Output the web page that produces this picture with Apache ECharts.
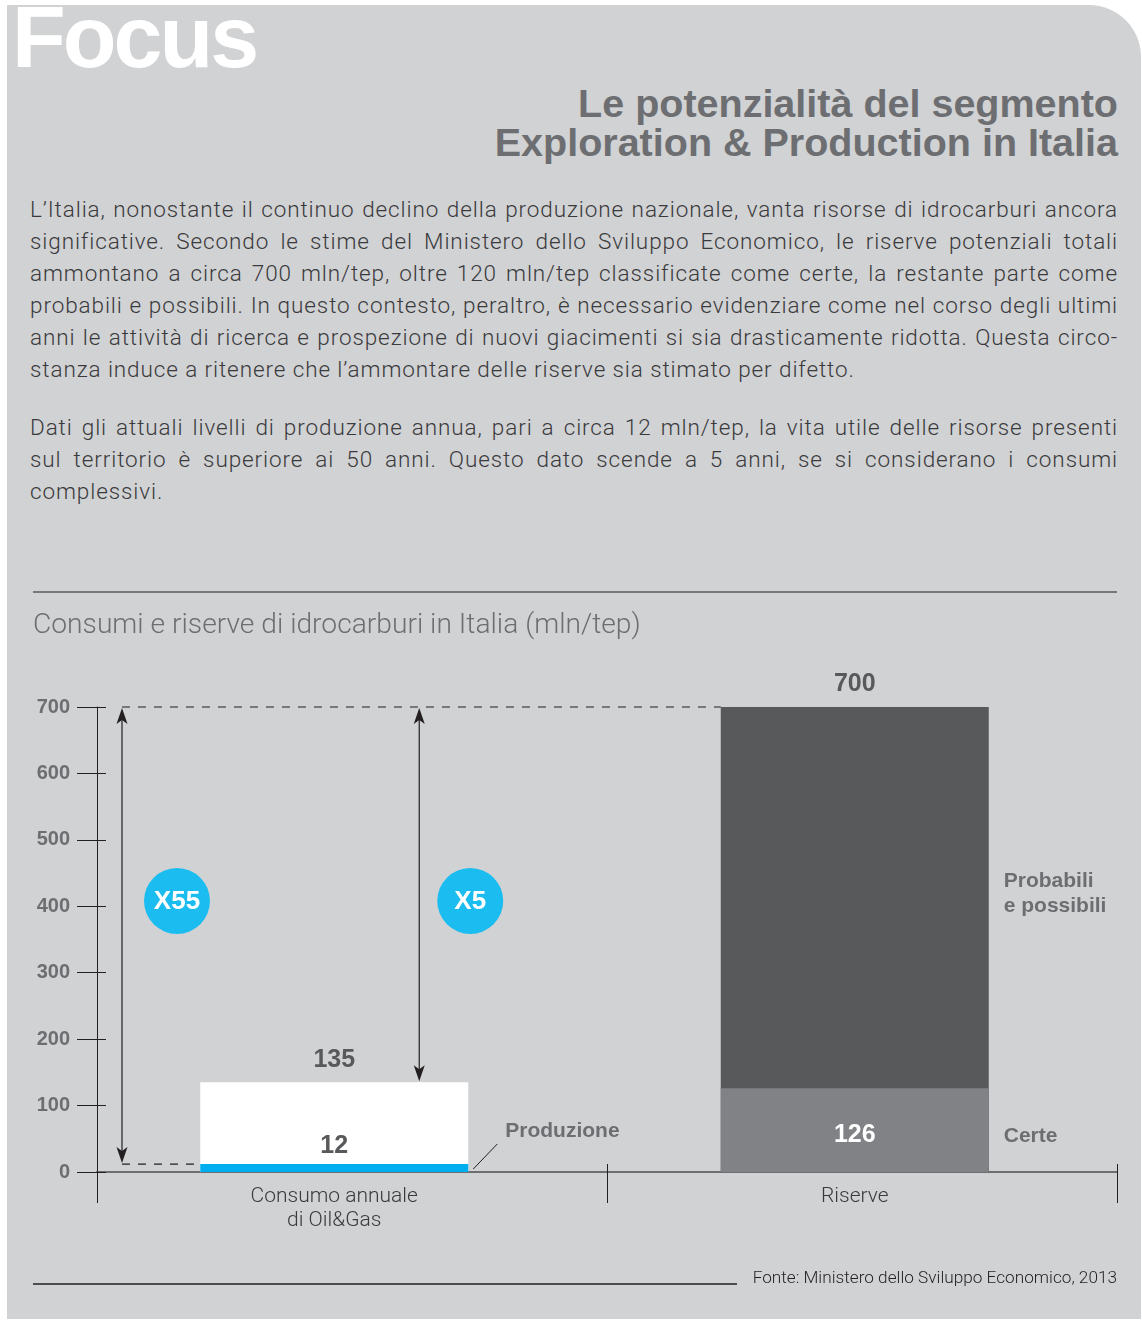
<!DOCTYPE html>
<html>
<head>
<meta charset="utf-8">
<script src="https://cdn.jsdelivr.net/npm/echarts@6/dist/echarts.min.js"></script>
<style>
html,body{margin:0;padding:0;background:#fff;width:1142px;height:1325px;overflow:hidden;}
#panel{position:absolute;left:7px;top:5px;width:1134px;height:1314px;background:#d1d2d4;border-top-right-radius:52px;}
#focus{position:absolute;left:12px;top:-7px;font:bold 88px/88px "Liberation Sans",Arial,sans-serif;letter-spacing:-3px;color:#fff;}
#title{position:absolute;right:24px;top:84px;text-align:right;font:bold 39.5px/39px "Liberation Sans",Arial,sans-serif;color:#6d6e71;white-space:nowrap;}
.para{position:absolute;left:30px;width:1088px;font-family:Roboto,"Liberation Sans",sans-serif;font-weight:300;font-size:22.5px;letter-spacing:0.9px;line-height:32px;color:#3a3a3c;}
.para div{text-align:justify;text-align-last:justify;white-space:nowrap;}
.para div.last{text-align:left;text-align-last:left;}
#chart{position:absolute;left:0;top:0;width:1142px;height:1325px;}
</style>
</head>
<body>
<div id="panel"></div>
<div id="focus">Focus</div>
<div id="title">Le potenzialità del segmento<br>Exploration &amp; Production in Italia</div>
<div class="para" style="top:193px">
<div>L’Italia, nonostante il continuo declino della produzione nazionale, vanta risorse di idrocarburi ancora</div>
<div>significative. Secondo le stime del Ministero dello Sviluppo Economico, le riserve potenziali totali</div>
<div>ammontano a circa 700 mln/tep, oltre 120 mln/tep classificate come certe, la restante parte come</div>
<div>probabili e possibili. In questo contesto, peraltro, è necessario evidenziare come nel corso degli ultimi</div>
<div>anni le attività di ricerca e prospezione di nuovi giacimenti si sia drasticamente ridotta. Questa circo-</div>
<div class="last">stanza induce a ritenere che l’ammontare delle riserve sia stimato per difetto.</div>
</div>
<div class="para" style="top:411px">
<div>Dati gli attuali livelli di produzione annua, pari a circa 12 mln/tep, la vita utile delle risorse presenti</div>
<div>sul territorio è superiore ai 50 anni. Questo dato scende a 5 anni, se si considerano i consumi</div>
<div class="last">complessivi.</div>
</div>
<div id="chart"></div>
<script>
// ---- data ----
const categories = ['Consumo annuale\ndi Oil&Gas', 'Riserve'];
const totalValues = [135, 700];   // consumo annuo totale, riserve totali
const partValues = [12, 126];     // produzione, riserve certe
const totalColors = ['#ffffff', '#58595b'];
const partColors = ['#00aeef', '#808285'];
const yMin = 0, yMax = 700, yStep = 100;
const multipliers = ['X55', 'X5'];
const partNames = ['Produzione', 'Certe'];
const upperName = 'Probabili\ne possibili';
const chartTitle = 'Consumi e riserve di idrocarburi in Italia (mln/tep)';
const sourceText = 'Fonte: Ministero dello Sviluppo Economico, 2013';

const LIGHT = 'Roboto, "Liberation Sans", sans-serif';
const BOLD = '"Liberation Sans", Arial, sans-serif';
const DARK = '#231f20';
const GREY = '#6d6e71';
const LABEL = '#58595b';

const chart = echarts.init(document.getElementById('chart'), null, {renderer: 'canvas'});

const valueAxisBase = {type: 'value', min: yMin, max: yMax, interval: yStep, splitLine: {show: false}, position: 'left'};

chart.setOption({
  animation: false,
  backgroundColor: 'transparent',
  title: {
    text: chartTitle, left: 28, top: 607,
    textStyle: {fontFamily: LIGHT, fontWeight: 300, fontSize: 28.2, color: GREY}
  },
  grid: [
    {left: 97, right: 25, top: 707, bottom: 153},
    {left: 74, right: 27, top: 707, bottom: 153}
  ],
  xAxis: [
    {type: 'category', gridIndex: 0, position: 'bottom', data: categories,
      axisLine: {show: true, lineStyle: {color: GREY, width: 2}},
      axisTick: {show: true, length: 31, interval: 0, lineStyle: {color: DARK, width: 1}},
      axisLabel: {show: false}},
    {type: 'category', gridIndex: 0, position: 'bottom', data: categories,
      axisLine: {show: false},
      axisTick: {show: true, inside: true, length: 8, interval: 0, lineStyle: {color: DARK, width: 1}},
      axisLabel: {show: false}},
    {type: 'category', gridIndex: 1, position: 'bottom', data: categories,
      axisLine: {show: false}, axisTick: {show: false},
      axisLabel: {show: true, margin: 13, fontFamily: LIGHT, fontWeight: 300, fontSize: 21, lineHeight: 24, color: '#3a3a3c'}}
  ],
  yAxis: [
    Object.assign({}, valueAxisBase, {gridIndex: 0,
      axisLine: {show: true, lineStyle: {color: DARK, width: 1}},
      axisTick: {show: true, length: 20, lineStyle: {color: DARK, width: 1}},
      axisLabel: {show: true, margin: 27, fontFamily: BOLD, fontWeight: 'bold', fontSize: 20, color: GREY}}),
    Object.assign({}, valueAxisBase, {gridIndex: 0,
      axisLine: {show: false},
      axisTick: {show: true, inside: true, length: 9, lineStyle: {color: DARK, width: 1}},
      axisLabel: {show: false}}),
    Object.assign({}, valueAxisBase, {gridIndex: 1, show: false})
  ],
  series: [
    {
      name: 'Totale', type: 'bar', xAxisIndex: 2, yAxisIndex: 2, barWidth: 268, barGap: '-100%',
      data: totalValues.map((v, i) => ({value: v, itemStyle: {color: totalColors[i]}})),
      label: {show: true, position: 'top', distance: 10, fontFamily: BOLD, fontWeight: 'bold', fontSize: 25, color: LABEL}
    },
    {
      name: 'Parziale', type: 'bar', xAxisIndex: 2, yAxisIndex: 2, barWidth: 268, barGap: '-100%',
      data: partValues.map((v, i) => ({
        value: v, itemStyle: {color: partColors[i]},
        label: i === 0 ? {position: 'top', distance: 5, color: LABEL} : {position: 'inside', offset: [0, 5], color: '#ffffff'}
      })),
      label: {show: true, fontFamily: BOLD, fontWeight: 'bold', fontSize: 25}
    }
  ]
});

// ---- annotations positioned through the chart's own scales ----
const yPx = v => chart.convertToPixel({yAxisIndex: 2}, v);
const c0 = chart.convertToPixel({xAxisIndex: 2}, 0);
const c1 = chart.convertToPixel({xAxisIndex: 2}, 1);
const a0 = chart.convertToPixel({xAxisIndex: 0}, 0);
const a1 = chart.convertToPixel({xAxisIndex: 0}, 1);
const axisX = a0 - (a1 - a0) / 2;
const half = 268 / 2;
const bar0L = c0 - half, bar0R = c0 + half, bar1L = c1 - half, bar1R = c1 + half;

const els = [];
function vline(x, y1, y2, dash) {
  els.push({type: 'line', shape: {x1: x, y1: y1, x2: x, y2: y2},
    style: {stroke: DARK, lineWidth: 1.2, lineDash: dash || null}, z: 10});
}
function hline(x1, x2, y, dash) {
  els.push({type: 'line', shape: {x1: x1, y1: y, x2: x2, y2: y},
    style: {stroke: DARK, lineWidth: 1.2, lineDash: dash || null}, z: 10});
}
function head(x, tipY, dir) {
  const b = tipY + dir * 14;
  els.push({type: 'polygon', shape: {points: [[x, tipY], [x - 5.5, b + dir * 2], [x, b - dir * 2], [x + 5.5, b + dir * 2]]},
    style: {fill: DARK}, z: 11});
}
function bubble(x, y, txt) {
  els.push({type: 'circle', shape: {cx: x, cy: y, r: 33}, style: {fill: '#1bbdf0'}, z: 12});
  els.push({type: 'text', x: x, y: y + 1, style: {text: txt, fill: '#ffffff', font: 'bold 26px ' + BOLD,
    align: 'center', verticalAlign: 'middle'}, z: 13});
}
function note(x, y, txt) {
  els.push({type: 'text', x: x, y: y, style: {text: txt, fill: GREY, font: 'bold 21px ' + BOLD,
    align: 'left', verticalAlign: 'middle', lineHeight: 25}, z: 13});
}

const yTop = yPx(totalValues[1]);
const arrow1X = axisX + 25;
const arrow2X = c0 + 85;
// dashed guides
hline(arrow1X, bar1L, yTop, [8, 8]);
hline(arrow1X, bar0L, yPx(partValues[0]), [8, 8]);
// arrow X55: production vs total reserves
vline(arrow1X, yTop + 6, yPx(partValues[0]) - 6);
head(arrow1X, yTop + 1, 1);
head(arrow1X, yPx(partValues[0]) - 1, -1);
// arrow X5: consumption vs total reserves
vline(arrow2X, yTop + 6, yPx(totalValues[0]) - 6);
head(arrow2X, yTop + 1, 1);
head(arrow2X, yPx(totalValues[0]) - 1, -1);
// bubbles
const bubbleY = yPx(408);
bubble(axisX + 80, bubbleY, multipliers[0]);
bubble(bar0R + 2, bubbleY, multipliers[1]);
// Produzione leader
els.push({type: 'line', shape: {x1: bar0R + 5, y1: yPx(partValues[0]) + 5, x2: bar0R + 29, y2: yPx(partValues[0]) - 20},
  style: {stroke: DARK, lineWidth: 1}, z: 10});
note(bar0R + 37, yPx(partValues[0]) - 33, partNames[0]);
note(bar1R + 15, yPx((partValues[1] + totalValues[1]) / 2) - 4, upperName);
note(bar1R + 15, yPx(partValues[1] / 2) + 6, partNames[1]);
// rules and source
els.push({type: 'line', shape: {x1: 33, y1: 592, x2: 1117, y2: 592}, style: {stroke: '#58595b', lineWidth: 1.5}});
els.push({type: 'line', shape: {x1: 33, y1: 1284, x2: 737, y2: 1284}, style: {stroke: DARK, lineWidth: 1.5}});
els.push({type: 'text', x: 1117, y: 1279, style: {text: sourceText, fill: DARK, font: '300 17.2px ' + LIGHT,
  align: 'right', verticalAlign: 'middle'}});

chart.setOption({graphic: {elements: els}});
</script>
</body>
</html>
